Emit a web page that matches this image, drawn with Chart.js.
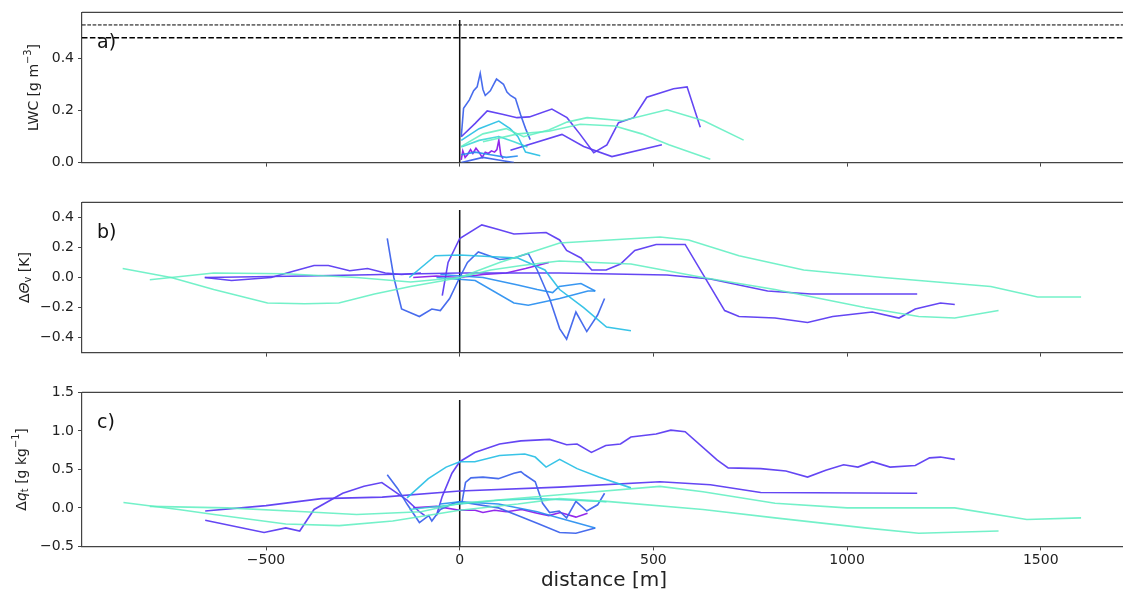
<!DOCTYPE html>
<html><head><meta charset="utf-8">
<script src="https://cdn.jsdelivr.net/npm/chart.js@4"></script>
<style>
html,body{margin:0;padding:0;background:#fff;overflow:hidden;width:1123px;height:596px;position:relative}
canvas{position:absolute;left:0}
</style></head><body>
<canvas id="ca" width="1126" height="175" style="top:0px"></canvas>
<canvas id="cb" width="1126" height="175" style="top:190px"></canvas>
<canvas id="cc" width="1126" height="216" style="top:380px"></canvas>
<script>
// ---------------- DATA ----------------
const X_MIN = -975, X_MAX = 1720;
const X_TICKS = [-500, 0, 500, 1000, 1500];
const LWC_TICKS = [0.0, 0.2, 0.4];
const TH_TICKS = [-0.4, -0.2, 0.0, 0.2, 0.4];
const Q_TICKS = [-0.5, 0.0, 0.5, 1.0, 1.5];
const LWC_RANGE = [0, 0.575];
const TH_RANGE = [-0.5, 0.5];
const Q_RANGE = [-0.5, 1.5];
const LWC_REF_LEVELS = [0.527, 0.478];
const VLINE_X = [0, 0];

// panel a: LWC [g m-3]  (pairs: distance m, value)
const lwcAqua1 = [[4,0.062],[60,0.11],[120,0.13],[165,0.099],[230,0.125],[277,0.155],[329,0.172],[420,0.16],[535,0.202],[630,0.16],[733,0.086]];
const lwcAqua2 = [[60,0.08],[150,0.11],[230,0.12],[311,0.147],[400,0.14],[470,0.11],[540,0.068],[647,0.013]];
const lwcCyan = [[4,0.085],[50,0.13],[101,0.159],[130,0.13],[150,0.10],[170,0.04],[208,0.026]];
const lwcAzure = [[4,0.06],[50,0.085],[101,0.10],[140,0.08],[175,0.06]];
const lwcAzureLow = [[4,0.03],[40,0.04],[80,0.03],[120,0.02],[150,0.025]];
const lwcBlueLow = [[4,0.0],[60,0.02],[100,0.01],[140,0.0]];
const lwcBlue = [[4,0.099],[10,0.208],[25,0.24],[36,0.275],[45,0.29],[53,0.342],[60,0.28],[66,0.257],[79,0.275],[88,0.30],[95,0.32],[104,0.31],[113,0.30],[122,0.27],[131,0.257],[144,0.245],[157,0.184],[170,0.13],[182,0.088]];
const lwcViolet1 = [[4,0.099],[40,0.15],[71,0.198],[110,0.185],[148,0.172],[180,0.175],[238,0.205],[277,0.172],[310,0.11],[346,0.038],[380,0.068],[410,0.153],[449,0.172],[483,0.25],[552,0.283],[587,0.29],[621,0.135]];
const lwcViolet2 = [[131,0.047],[264,0.108],[320,0.062],[393,0.023],[522,0.068]];
const lwcPurple = [[4,0.01],[8,0.045],[14,0.02],[20,0.03],[28,0.05],[34,0.035],[42,0.055],[50,0.04],[58,0.02],[66,0.04],[74,0.035],[82,0.045],[90,0.04],[96,0.05],[101,0.086],[106,0.03],[112,0.015]];

// panel b: delta theta_v [K]
const thAqua1 = [[-870,0.06],[-745,0.0],[-635,-0.08],[-496,-0.17],[-400,-0.175],[-312,-0.17],[-220,-0.11],[-127,-0.06],[-40,-0.02],[0,0.0],[80,0.05],[160,0.08],[257,0.11],[442,0.09],[628,0.0],[814,-0.08],[1046,-0.2],[1185,-0.26],[1278,-0.27],[1391,-0.22]];
const thAqua2 = [[-800,-0.015],[-635,0.03],[-450,0.025],[-266,0.0],[-127,-0.03],[0,0.0],[103,0.1],[258,0.23],[517,0.27],[591,0.25],[721,0.145],[888,0.05],[1093,0.0],[1371,-0.06],[1492,-0.13],[1604,-0.13]];
const thCyan = [[-130,0.0],[-63,0.145],[0,0.15],[150,0.13],[220,0.05],[258,-0.08],[320,-0.2],[379,-0.33],[442,-0.355]];
const thAzure1 = [[-60,0.0],[40,-0.02],[140,-0.17],[177,-0.185],[258,-0.14],[331,-0.09],[350,-0.09]];
const thAzure2 = [[-50,0.02],[60,0.0],[150,-0.05],[200,-0.08],[240,-0.1],[257,-0.06],[313,-0.04],[350,-0.09]];
const thBlue = [[-187,0.26],[-170,0.0],[-150,-0.21],[-104,-0.26],[-72,-0.21],[-50,-0.22],[-26,-0.14],[0,0.0],[20,0.10],[48,0.17],[103,0.12],[140,0.13],[177,0.16],[200,0.05],[232,-0.14],[258,-0.34],[276,-0.41],[300,-0.23],[328,-0.36],[356,-0.25],[374,-0.14]];
const thVioletFlat = [[-658,0.0],[-400,0.01],[-200,0.02],[0,0.03],[257,0.03],[535,0.017],[647,-0.01],[795,-0.09],[907,-0.11],[1181,-0.11]];
const thVioletWavy = [[-658,0.0],[-589,-0.02],[-487,0.0],[-432,0.04],[-376,0.08],[-339,0.08],[-284,0.045],[-238,0.06],[-192,0.03],[-150,0.02],[-100,0.03]];
const thVioletBig = [[-45,-0.12],[-30,0.1],[0,0.26],[57,0.35],[100,0.32],[140,0.29],[223,0.30],[258,0.25],[276,0.18],[313,0.13],[341,0.05],[378,0.05],[415,0.09],[452,0.18],[507,0.22],[582,0.22],[684,-0.22],[721,-0.26],[814,-0.27],[898,-0.30],[963,-0.26],[1065,-0.23],[1134,-0.27],[1176,-0.21],[1241,-0.17],[1278,-0.18]];
const thPurple = [[-120,0.0],[-60,0.01],[0,0.0],[60,0.02],[120,0.03],[170,0.06],[200,0.08],[230,0.1]];

// panel c: delta q_t [g kg-1]
const qAqua1 = [[-868,0.07],[-726,-0.02],[-634,-0.085],[-449,-0.21],[-311,-0.23],[-173,-0.17],[-60,-0.08],[0,-0.03],[150,0.05],[257,0.12],[379,0.085],[628,-0.02],[814,-0.13],[1046,-0.26],[1185,-0.33],[1391,-0.30]];
const qAqua2 = [[-800,0.02],[-600,0.0],[-400,-0.05],[-266,-0.085],[-100,-0.05],[0,0.06],[258,0.17],[517,0.28],[628,0.21],[814,0.06],[1000,0.0],[1278,0.0],[1464,-0.15],[1604,-0.13]];
const qCyan = [[-136,0.13],[-81,0.38],[-35,0.53],[0,0.6],[39,0.6],[103,0.68],[168,0.70],[195,0.66],[223,0.53],[258,0.63],[303,0.51],[359,0.40],[442,0.26]];
const qTeal = [[-130,-0.02],[0,0.05],[100,0.1],[200,0.12],[300,0.1],[379,0.08]];
const qAzure = [[-50,0.05],[0,0.08],[100,0.05],[200,-0.05],[257,-0.13],[350,-0.26]];
const qBlueBump = [[5,0.05],[15,0.33],[29,0.39],[60,0.40],[100,0.38],[140,0.45],[158,0.47],[168,0.43],[195,0.34],[214,0.06],[232,-0.06],[257,-0.04],[276,-0.13],[300,0.085],[328,-0.04],[356,0.04],[374,0.19]];
const qBlueDrop = [[-187,0.43],[-160,0.25],[-136,0.05],[-104,-0.19],[-80,-0.1],[-72,-0.17],[-50,-0.02],[-20,0.05],[0,0.08],[100,0.0],[150,-0.1],[200,-0.2],[258,-0.32],[300,-0.33],[350,-0.26]];
const qVioletFlat = [[-657,-0.04],[-500,0.03],[-357,0.12],[-200,0.14],[0,0.22],[258,0.27],[517,0.34],[647,0.30],[777,0.20],[1181,0.19]];
const qVioletWavy = [[-657,-0.16],[-505,-0.32],[-449,-0.26],[-413,-0.30],[-376,-0.02],[-302,0.19],[-247,0.28],[-201,0.33],[-173,0.23],[-136,0.10],[-104,-0.05],[-90,-0.1]];
const qVioletBig = [[-60,-0.1],[-45,0.15],[-20,0.45],[0,0.6],[39,0.72],[103,0.83],[158,0.87],[232,0.89],[258,0.85],[276,0.82],[303,0.83],[340,0.72],[377,0.81],[415,0.83],[442,0.92],[507,0.96],[545,1.01],[582,0.99],[665,0.62],[693,0.52],[777,0.51],[842,0.48],[898,0.40],[945,0.49],[991,0.56],[1028,0.53],[1065,0.60],[1111,0.53],[1176,0.55],[1213,0.65],[1241,0.66],[1278,0.63]];
const qPurple = [[-120,0.0],[-60,0.02],[0,-0.03],[40,-0.03],[60,-0.06],[90,-0.03],[120,-0.05],[160,-0.02],[200,-0.07],[230,-0.1],[260,-0.06],[300,-0.12],[330,-0.07]];

// ---------------- STYLE ----------------
const COL = {
  aqua: 'rgba(92,238,192,0.85)',
  teal: 'rgba(50,215,210,0.85)',
  cyan: 'rgba(35,190,228,0.9)',
  azure: 'rgba(35,140,240,0.9)',
  blue: 'rgba(62,100,236,0.95)',
  violet: 'rgba(92,60,242,0.95)',
  purple: 'rgba(140,30,235,0.95)'
};
const FONT = "'DejaVu Sans', sans-serif";
const AXC = '#444';

const lwcSeries = [
  [lwcAqua1,'aqua'],[lwcAqua2,'aqua'],[lwcCyan,'cyan'],[lwcAzure,'teal'],[lwcAzureLow,'azure'],[lwcBlueLow,'blue'],
  [lwcBlue,'blue'],[lwcViolet1,'violet'],[lwcViolet2,'violet'],[lwcPurple,'purple']
];
const thSeries = [
  [thAqua1,'aqua'],[thAqua2,'aqua'],[thCyan,'cyan'],[thAzure1,'azure'],[thAzure2,'azure'],[thBlue,'blue'],
  [thVioletFlat,'violet'],[thVioletWavy,'violet'],[thVioletBig,'violet'],[thPurple,'purple']
];
const qSeries = [
  [qAqua1,'aqua'],[qAqua2,'aqua'],[qTeal,'teal'],[qCyan,'cyan'],[qAzure,'azure'],[qBlueBump,'blue'],[qBlueDrop,'blue'],
  [qVioletFlat,'violet'],[qVioletWavy,'violet'],[qVioletBig,'violet'],[qPurple,'purple']
];

function fmt1(v){ return (v < 0 ? '\u2212' : '') + Math.abs(v).toFixed(1); }
function fmt0(v){ return (v < 0 ? '\u2212' : '') + Math.abs(v); }

function drawRich(ctx, parts, size) {
  const items = parts.map(([t, m]) => {
    const s = (m === 'sup' || m === 'sub') ? size * 0.7 : size;
    const f = (m === 'i' ? 'italic ' : '') + s + 'px ' + FONT;
    ctx.font = f;
    return {t, m, f, w: ctx.measureText(t).width};
  });
  const total = items.reduce((a, b) => a + b.w, 0);
  let x = -total / 2;
  for (const it of items) {
    ctx.font = it.f;
    let dy = 0;
    if (it.m === 'sup') dy = -size * 0.38;
    if (it.m === 'sub') dy = size * 0.22;
    ctx.fillText(it.t, x, dy);
    x += it.w;
  }
}

function makePanel(id, series, range, yTicks, refLevels, letter, ytitle, ytitleX, showX) {
  const datasets = [];
  if (refLevels) {
    refLevels.forEach((lv, i) => {
      datasets.push({data: [{x: X_MIN, y: lv}, {x: X_MAX, y: lv}], borderColor: '#000',
        borderWidth: i === 0 ? 1 : 1.6, borderDash: i === 0 ? [3.7, 1.6] : [5.5, 2.4], pointRadius: 0});
    });
  }
  series.forEach(([d, c]) => {
    datasets.push({data: d.map(p => ({x: p[0], y: p[1]})), borderColor: COL[c], borderWidth: 1.6,
      pointRadius: 0, tension: 0});
  });
  const vTop = range[0] + 0.95 * (range[1] - range[0]);
  datasets.push({data: [{x: VLINE_X[0], y: range[0]}, {x: VLINE_X[1], y: vTop}], borderColor: '#111',
    borderWidth: 1.5, pointRadius: 0});

  const deco = {
    id: 'deco',
    afterDraw(chart) {
      const {ctx, chartArea: a} = chart;
      ctx.save();
      ctx.strokeStyle = AXC; ctx.lineWidth = 1.2;
      ctx.beginPath(); ctx.moveTo(a.left, a.top); ctx.lineTo(a.right, a.top); ctx.stroke();
      ctx.fillStyle = '#111';
      ctx.font = '19px ' + FONT;
      ctx.textBaseline = 'middle'; ctx.textAlign = 'left';
      ctx.fillText(letter, a.left + 15, a.top + 31);
      ctx.fillStyle = '#222';
      ctx.translate(ytitleX, (a.top + a.bottom) / 2);
      ctx.rotate(-Math.PI / 2);
      ctx.textBaseline = 'middle';
      drawRich(ctx, ytitle, 14);
      ctx.restore();
      if (showX) {
        ctx.save();
        ctx.fillStyle = '#222';
        ctx.font = '20px ' + FONT;
        ctx.textAlign = 'center'; ctx.textBaseline = 'middle';
        ctx.fillText('distance [m]', (a.left + a.right) / 2, a.bottom + 34);
        ctx.restore();
      }
    }
  };

  return new Chart(document.getElementById(id), {
    type: 'line',
    data: {datasets},
    plugins: [deco],
    options: {
      responsive: false, animation: false, devicePixelRatio: 1,
      layout: {padding: {top: 9.4, left: 0, right: 0, bottom: 0}},
      plugins: {legend: {display: false}, tooltip: {enabled: false}},
      elements: {line: {fill: false}},
      scales: {
        x: {
          type: 'linear', min: X_MIN, max: X_MAX,
          afterBuildTicks: s => { s.ticks = X_TICKS.map(v => ({value: v})); },
          afterFit: s => { s.height = showX ? 216 - 9.4 - 157 : 175 - 9.4 - 157.5; },
          grid: {display: true, drawOnChartArea: false, drawTicks: true, tickLength: 4, color: AXC, lineWidth: 1},
          border: {display: true, color: AXC, width: 1.2},
          ticks: {display: showX, color: '#222', font: {family: FONT, size: 14}, padding: 2, maxRotation: 0,
            callback: v => fmt0(v)}
        },
        y: {
          type: 'linear', min: range[0], max: range[1],
          afterBuildTicks: s => { s.ticks = yTicks.map(v => ({value: v})); },
          afterFit: s => { s.width = 82; },
          grid: {display: true, drawOnChartArea: false, drawTicks: true, tickLength: 4, color: AXC, lineWidth: 1},
          border: {display: true, color: AXC, width: 1.2},
          ticks: {color: '#222', font: {family: FONT, size: 14}, padding: 4, callback: v => fmt1(v)}
        }
      }
    }
  });
}

makePanel('ca', lwcSeries, LWC_RANGE, LWC_TICKS, LWC_REF_LEVELS, 'a)',
  [['LWC [g m','n'],['\u22123','sup'],[']','n']], 34, false);
makePanel('cb', thSeries, TH_RANGE, TH_TICKS, null, 'b)',
  [['\u0394','n'],['\u0398','i'],['v','sub'],[' [K]','n']], 25, false);
makePanel('cc', qSeries, Q_RANGE, Q_TICKS, null, 'c)',
  [['\u0394','n'],['q','i'],['t','sub'],[' [g kg','n'],['\u22121','sup'],[']','n']], 22, true);
</script>
</body></html>
